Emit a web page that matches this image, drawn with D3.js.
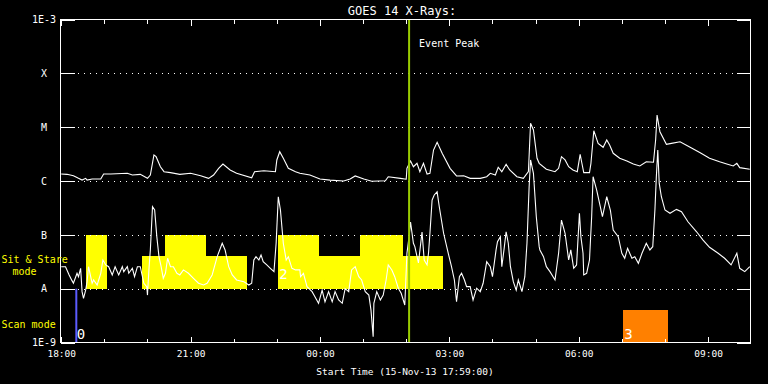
<!DOCTYPE html>
<html>
<head>
<meta charset="utf-8">
<script src="https://cdn.jsdelivr.net/npm/d3@7"></script>
<style>
  html, body { margin: 0; padding: 0; background: #000; }
  svg { display: block; background: #000; }
  text { font-family: "DejaVu Sans Mono", "Liberation Mono", monospace; fill: #fff; }
</style>
</head>
<body>
<svg id="chart" width="768" height="384"></svg>
<script>
// ---------------- DATA ----------------
const startLabel = "Start Time (15-Nov-13 17:59:00)";
const titleText = "GOES 14 X-Rays:";
// minutes after start (17:59 UT) ; flux W/m^2 — long channel (1-8 A)
const longT = [1,9,18,25,30,35,37,44,56,60,70,93,100,111,121,125,130,133,139,144,153,166,181,195,206,213,220,226,236,245,266,270,283,299,301,305,310,317,327,333,347,361,375,394,403,410,422,433,452,456,473,481,482,487,491,496,500,505,510,514,519,524,531,542,551,561,570,584,593,598,605,609,614,620,625,635,644,651,654,658,663,666,676,688,693,697,702,707,713,719,723,725,728,736,738,742,748,755,760,764,769,778,788,797,806,815,825,828,830,834,843,850,862,876,890,903,917,927,936,941,945,959];
const longFlux = [1.35e-6,1.33e-6,1.25e-6,1.12e-6,1.04e-6,1.12e-6,1.04e-6,1.09e-6,1.09e-6,1.35e-6,1.35e-6,1.39e-6,1.29e-6,1.33e-6,1.12e-6,1.29e-6,3.04e-6,2.83e-6,1.84e-6,1.49e-6,1.43e-6,1.33e-6,1.39e-6,1.25e-6,1.12e-6,1.29e-6,1.72e-6,2.07e-6,1.60e-6,1.39e-6,1.15e-6,1.49e-6,1.55e-6,1.49e-6,2.46e-6,3.50e-6,2.64e-6,1.72e-6,1.49e-6,1.39e-6,1.29e-6,1.09e-6,1.04e-6,1.00e-6,1.09e-6,1.24e-6,1.09e-6,0.99e-6,1.01e-6,1.20e-6,1.12e-6,1.08e-6,1.72e-6,2.35e-6,1.84e-6,2.13e-6,1.49e-6,2.13e-6,1.35e-6,1.39e-6,3.76e-6,5.24e-6,3.27e-6,1.72e-6,1.24e-6,1.25e-6,1.12e-6,1.12e-6,1.20e-6,1.39e-6,1.29e-6,1.80e-6,1.49e-6,2.04e-6,1.60e-6,1.20e-6,1.12e-6,1.49e-6,1.18e-5,8.86e-6,2.64e-6,2.13e-6,1.65e-6,1.49e-6,1.72e-6,2.83e-6,2.46e-6,1.84e-6,1.60e-6,1.49e-6,3.13e-6,2.28e-6,1.43e-6,1.43e-6,2.13e-6,8.6e-6,5.0e-6,4.23e-6,5.77e-6,4.66e-6,3.27e-6,2.64e-6,2.35e-6,2.07e-6,1.90e-6,2.28e-6,2.23e-6,5.77e-6,1.68e-5,8.2e-6,4.8e-6,5.0e-6,5.37e-6,4.23e-6,3.36e-6,2.64e-6,2.28e-6,2.07e-6,1.90e-6,2.13e-6,1.77e-6,1.65e-6];
// short channel (0.5-4 A)
const shortT = [1,7,12,16,18,23,25,28,30,32,35,37,39,42,44,46,51,56,59,63,67,72,76,81,86,88,93,95,100,103,107,111,116,120,121,123,125,128,131,134,137,140,143,146,149,153,157,162,166,171,178,185,192,199,204,211,218,225,229,234,239,245,255,262,266,269,272,276,279,282,287,292,297,300,303,306,310,314,317,322,327,333,334,338,343,350,354,359,364,368,373,378,382,387,392,396,401,405,410,415,419,424,429,432,435,436,440,445,449,453,456,461,465,470,474,479,482,485,487,491,493,498,503,506,510,512,514,517,520,524,527,533,540,544,548,551,555,558,562,565,570,574,579,584,588,593,598,601,606,608,612,614,617,620,623,626,630,634,637,642,646,649,652,654,658,662,666,667,672,676,681,688,693,697,702,707,710,714,718,722,724,727,728,732,736,739,741,746,751,754,758,760,765,769,776,781,785,789,795,799,804,809,815,820,824,827,829,831,833,836,841,848,857,864,873,885,894,903,915,924,933,941,945,952,959];
const shortFlux = [2.56e-8,2.56e-8,1.80e-8,1.41e-8,1.26e-8,1.93e-8,1.67e-8,2.39e-8,8.8e-9,6.6e-9,9.4e-9,1.35e-8,2.56e-8,1.67e-8,1.26e-8,1.45e-8,1.17e-8,1.93e-8,3.41e-8,2.76e-8,2.56e-8,1.80e-8,2.56e-8,1.80e-8,2.56e-8,2.07e-8,2.56e-8,1.93e-8,2.39e-8,1.67e-8,2.56e-8,2.56e-8,1.26e-8,1.09e-8,7.6e-9,2.23e-8,5.24e-8,3.33e-7,2.89e-7,9.25e-8,3.93e-8,2.56e-8,1.56e-8,1.93e-8,3.67e-8,2.56e-8,2.56e-8,1.93e-8,1.80e-8,2.23e-8,1.93e-8,1.56e-8,1.26e-8,1.17e-8,1.26e-8,1.80e-8,3.93e-8,6.97e-8,5.24e-8,2.56e-8,1.80e-8,1.45e-8,1.35e-8,1.17e-8,1.26e-8,3.41e-8,3.93e-8,3.41e-8,4.23e-8,3.17e-8,2.76e-8,2.39e-8,2.07e-8,6.97e-8,5.1e-7,2.89e-7,6.97e-8,3.41e-8,3.93e-8,2.39e-8,2.23e-8,2.23e-8,1.67e-8,1.93e-8,1.09e-8,8.8e-9,7.1e-9,5.35e-9,9.4e-9,5.7e-9,8.8e-9,5.7e-9,8.8e-9,6.16e-9,5.35e-9,1.0e-8,8.8e-9,2.23e-8,2.56e-8,1.67e-8,1.45e-8,8.8e-9,7.6e-9,4.0e-9,1.28e-9,5.35e-9,8.8e-9,6.16e-9,7.6e-9,1.45e-8,2.76e-8,2.23e-8,1.67e-8,1.02e-8,8.2e-9,4.97e-9,4.54e-8,9.25e-8,1.73e-7,6.97e-8,6.03e-8,3.0e-8,1.13e-7,3.41e-8,2.76e-8,4.54e-8,1.07e-7,4.43e-7,5.5e-7,6.3e-7,3.33e-7,1.07e-7,4.23e-8,2.56e-8,1.45e-8,5.7e-9,1.67e-8,1.93e-8,1.45e-8,1.09e-8,1.09e-8,6.16e-9,1.02e-8,8.8e-9,1.26e-8,3.17e-8,2.56e-8,1.67e-8,5.24e-8,7.47e-8,9.25e-8,2.56e-8,5.24e-8,1.14e-7,6.97e-8,2.56e-8,1.35e-8,9.4e-9,1.45e-8,8.8e-9,1.67e-8,6.97e-8,7.8e-7,2.46e-6,1.39e-6,2.17e-7,6.03e-8,5.24e-8,3.93e-8,2.56e-8,2.07e-8,1.45e-8,4.54e-8,1.88e-7,1.07e-7,3.41e-8,5.24e-8,2.39e-8,2.76e-8,2.51e-7,9.25e-8,4.54e-8,1.80e-8,1.93e-8,3.41e-8,2.17e-7,1.20e-6,6.8e-7,3.33e-7,2.17e-7,3.85e-7,5.1e-7,2.89e-7,1.23e-7,9.25e-8,4.54e-8,3.67e-8,5.63e-8,3.67e-8,3.93e-8,2.96e-8,4.54e-8,6.97e-8,5.24e-8,6.03e-8,2.89e-7,1.20e-6,3.76e-6,9.0e-7,5.1e-7,2.89e-7,2.51e-7,2.97e-7,2.69e-7,1.75e-7,1.14e-7,8.0e-8,5.87e-8,4.54e-8,3.67e-8,2.76e-8,4.54e-8,2.39e-8,2.07e-8,2.56e-8];
// Sit & Stare observation blocks (minutes after start, top flux level)
const sitStart = [36,113,145,203,303,360,417,476];
const sitEnd   = [64,145,203,260,360,417,476,532];
const sitTop   = [1e-7,4e-8,1e-7,4e-8,1e-7,4e-8,1e-7,4e-8];
const sitLabels = [{t:303, text:"2"}];
// Scan mode observations
const scanLineT = [22];          // narrow scan marker
const scanLineLabel = ["0"];
const scanBlockStart = [783];
const scanBlockEnd = [845];
const scanBlockLabel = ["3"];
const eventPeakT = 485;
// axis labels
const yTickValues = [1e-9,1e-8,1e-7,1e-6,1e-5,1e-4,1e-3];
const yTickLabels = ["1E-9","A","B","C","M","X","1E-3"];

// ---------------- CHART ----------------
const svg = d3.select("#chart");
const start = new Date(Date.UTC(2013,10,15,17,59,0));
const toDate = m => new Date(start.getTime() + m*60000);
const L = 60.5, R = 750.5, T = 19.5, B = 342.5;
const x = d3.scaleUtc().domain([start, toDate(960)]).range([L, R]);
const y = d3.scaleLog().domain([1e-9, 1e-3]).range([B, T]);

// Sit & Stare blocks
svg.append("g").selectAll("rect").data(sitStart).join("rect")
  .attr("x", (d,i) => x(toDate(d)))
  .attr("width", (d,i) => x(toDate(sitEnd[i])) - x(toDate(d)))
  .attr("y", (d,i) => y(sitTop[i]))
  .attr("height", (d,i) => y(1e-8) - y(sitTop[i]))
  .attr("fill", "#ffff00").attr("shape-rendering","crispEdges");

// scan block
svg.append("g").selectAll("rect").data(scanBlockStart).join("rect")
  .attr("x", d => x(toDate(d)))
  .attr("width", (d,i) => x(toDate(scanBlockEnd[i])) - x(toDate(d)))
  .attr("y", y(4e-9))
  .attr("height", y(1e-9) - y(4e-9))
  .attr("fill", "#ff8000").attr("shape-rendering","crispEdges");

// scan line
svg.append("g").selectAll("line").data(scanLineT).join("line")
  .attr("x1", d => x(toDate(d))).attr("x2", d => x(toDate(d)))
  .attr("y1", y(1e-8)).attr("y2", y(1e-9))
  .attr("stroke", "#5c5cff").attr("stroke-width", 2);

// grid lines
const gridVals = yTickValues.slice(1, -1);
svg.append("g").selectAll("line").data(gridVals).join("line")
  .attr("x1", L + 17).attr("x2", R - 14)
  .attr("y1", d => Math.round(y(d)) + 0.5).attr("y2", d => Math.round(y(d)) + 0.5)
  .attr("stroke", "#fff").attr("stroke-width", 1)
  .attr("stroke-dasharray", "1 5").attr("shape-rendering","crispEdges");

// curves
const line = d3.line().x(d => x(toDate(d[0]))).y(d => y(d[1]));
svg.append("path").datum(longT.map((t,i) => [t, longFlux[i]]))
  .attr("d", line).attr("fill","none").attr("stroke","#fff").attr("stroke-width",1.1);
svg.append("path").datum(shortT.map((t,i) => [t, shortFlux[i]]))
  .attr("d", line).attr("fill","none").attr("stroke","#fff").attr("stroke-width",1.1);

// event peak
svg.append("line")
  .attr("x1", x(toDate(eventPeakT))).attr("x2", x(toDate(eventPeakT)))
  .attr("y1", T).attr("y2", B)
  .attr("stroke", "#99cc00").attr("stroke-width", 2);
svg.append("text").attr("x", x(toDate(eventPeakT)) + 10).attr("y", 47)
  .attr("font-size", 10).text("Event Peak");

// block labels
svg.append("g").selectAll("text").data(sitLabels).join("text")
  .attr("x", d => x(toDate(d.t)) + 1).attr("y", 278.5)
  .attr("font-size", 14).attr("fill", "#ffffc8").text(d => d.text);
svg.append("g").selectAll("text").data(scanLineT).join("text")
  .attr("x", d => x(toDate(d)) + 0.5).attr("y", 338.5)
  .attr("font-size", 14).attr("fill", "#f0f0ff").text((d,i) => scanLineLabel[i]);
svg.append("g").selectAll("text").data(scanBlockStart).join("text")
  .attr("x", d => x(toDate(d)) + 1).attr("y", 338.5)
  .attr("font-size", 14).attr("fill", "#fff0e0").text((d,i) => scanBlockLabel[i]);

// frame
svg.append("rect").attr("x", L).attr("y", T).attr("width", R - L).attr("height", B - T)
  .attr("fill","none").attr("stroke","#fff").attr("stroke-width",1).attr("shape-rendering","crispEdges");

// axes
function styleAxis(g) {
  g.select(".domain").remove();
  g.selectAll(".tick line").attr("stroke","#fff").attr("shape-rendering","crispEdges");
}
const major = d3.utcHour.every(3), minor = d3.utcHour.every(1);
svg.append("g").attr("transform", `translate(0,${B})`)
  .call(d3.axisBottom(x).ticks(minor).tickSize(-4).tickFormat(""))
  .call(styleAxis);
svg.append("g").attr("transform", `translate(0,${B})`)
  .call(d3.axisBottom(x).ticks(major).tickSize(-6).tickPadding(8).tickFormat(d3.utcFormat("%H:%M")))
  .call(styleAxis)
  .call(g => g.selectAll("text").attr("fill","#fff").attr("font-size", 9.5)
      .attr("font-family", '"DejaVu Sans Mono", monospace'));
svg.append("g").attr("transform", `translate(0,${T})`)
  .call(d3.axisTop(x).ticks(minor).tickSize(-4).tickFormat(""))
  .call(styleAxis);
svg.append("g").attr("transform", `translate(0,${T})`)
  .call(d3.axisTop(x).ticks(major).tickSize(-6).tickFormat(""))
  .call(styleAxis);

svg.append("g").attr("transform", `translate(${L},0)`)
  .call(d3.axisLeft(y).tickValues(yTickValues).tickSize(-14).tickFormat((d,i) => yTickLabels[i]))
  .call(styleAxis)
  .call(g => g.selectAll("text").attr("fill","#fff").attr("font-size", 10)
      .attr("text-anchor","middle").attr("x", 44 - L)
      .attr("font-family", '"DejaVu Sans Mono", monospace'));
svg.append("g").attr("transform", `translate(${R},0)`)
  .call(d3.axisRight(y).tickValues(yTickValues).tickSize(-14).tickFormat(""))
  .call(styleAxis);

// titles
svg.append("text").attr("x", 402).attr("y", 15).attr("text-anchor","middle")
  .attr("font-size", 12).text(titleText);
svg.append("text").attr("x", 405).attr("y", 375).attr("text-anchor","middle")
  .attr("font-size", 9.5).text(startLabel);

// mode labels
svg.append("text").attr("x", 1.5).attr("y", 263).attr("font-size", 10)
  .attr("fill","#ffff00").style("fill","#ffff00").text("Sit & Stare");
svg.append("text").attr("x", 12.5).attr("y", 275).attr("font-size", 10)
  .style("fill","#ffff00").text("mode");
svg.append("text").attr("x", 1.5).attr("y", 328).attr("font-size", 10)
  .style("fill","#ffff00").text("Scan mode");
</script>
</body>
</html>
